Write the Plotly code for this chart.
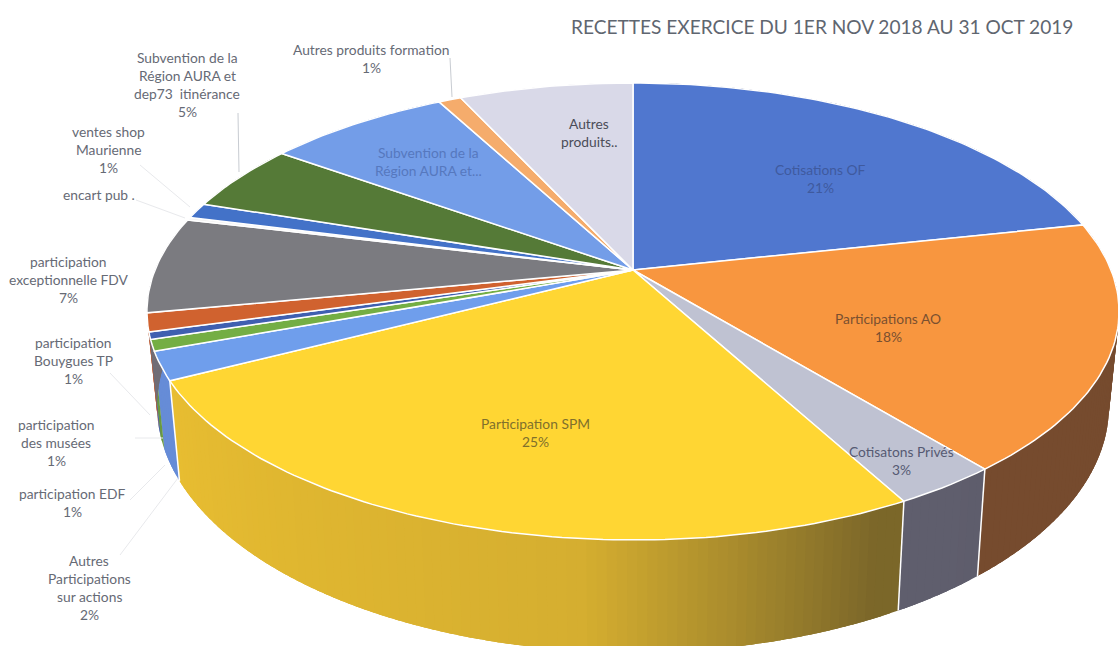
"""Recettes exercice 2018-2019 : camembert 3D en perspective"""
import numpy as np
import plotly.graph_objects as go

TITLE = 'RECETTES EXERCICE DU 1ER NOV 2018 AU 31 OCT 2019'

CATEGORIES = ['Cotisations OF', 'Participations AO', 'Cotisatons Privés', 'Participation SPM',
              'Autres Participations sur actions', 'participation EDF', 'participation des musées',
              'participation Bouygues TP', 'participation exceptionnelle FDV', 'encart pub',
              'ventes shop Maurienne', 'Subvention de la Région AURA et dep73 itinérance',
              'Subvention de la Région AURA et...', 'Autres produits formation', 'Autres produits']
VALUES = [21.6, 17.5, 3.0, 25.3, 2.0, 0.8, 0.5, 1.3, 6.8, 0.2, 1.1, 4.8, 7.3, 0.9, 6.9]
COLORS = ['#5077CF', '#F8963F', '#BFC2D2', '#FFD633', '#6F9EEC', '#74AE44', '#3F5FB0', '#D0622F',
          '#7B7B80', '#F4F4F4', '#4372C8', '#557A37', '#739DE8', '#F5AC6C', '#D9D9E8']

# perspective du disque (pixels de la page)
CX, CY = 633, 270
TOP_A, TOP_B = 478, 221
BOT_A, BOT_B, BOT_CY = 468, 238, 361.5
K = 0.1816

# (centre x, haut y, lignes, couleur)
LABELS = [
    (371, 49, ['Autres produits formation', '1%'], '#666a75'),
    (187, 57, ['Subvention de la', 'Région AURA et', 'dep73  itinérance', '5%'], '#666a75'),
    (108, 131, ['ventes shop', 'Maurienne', '1%'], '#666a75'),
    (99, 194, ['encart pub .'], '#666a75'),
    (68, 261, ['participation', 'exceptionnelle FDV', '7%'], '#666a75'),
    (73, 342, ['participation', 'Bouygues TP', '1%'], '#666a75'),
    (56, 424, ['participation', 'des musées', '1%'], '#666a75'),
    (72, 493, ['participation EDF', '1%'], '#666a75'),
    (89, 560, ['Autres', 'Participations', 'sur actions', '2%'], '#666a75'),
    (428, 152, ['Subvention de la', 'Région AURA et...'], '#5678BE'),
    (589, 123, ['Autres', 'produits..'], '#4b4d58'),
    (820, 169, ['Cotisations OF', '21%'], '#3F5A9E'),
    (888, 318, ['Participations AO', '18%'], '#7A5030'),
    (535, 423, ['Participation SPM', '25%'], '#80702c'),
    (901, 451, ['Cotisatons Privés', '3%'], '#565a72'),
]

LEADERS = [
    [(450, 58), (452, 97), '#c8ccd2'],
    [(238, 113), (239, 172), '#c8ccd2'],
    [(140, 165), (190, 207), '#e8e9ec'],
    [(136, 200), (185, 218), '#e8e9ec'],
    [(110, 373), (150, 415), '#e8e9ec'],
    [(135, 438), (163, 438), '#e8e9ec'],
    [(130, 500), (165, 465), '#e8e9ec'],
    [(120, 555), (178, 478), '#e8e9ec'],
]


def project(theta, a, b, cy):
    # theta en radians, sens horaire depuis le haut
    u, v = np.sin(theta), np.cos(theta)
    w = 1 + K * v
    return CX + a * u / w, cy - b * v / w


def shade(color, theta):
    # eclairage de la tranche : clair a gauche, sombre a droite
    deg = np.degrees(theta)
    f = np.interp(deg, [140, 155, 170, 185, 242, 360], [0.42, 0.43, 0.63, 0.82, 0.9, 0.9])
    r, g, b = [int(color[i:i + 2], 16) for i in (1, 3, 5)]
    return f'rgb({int(r * f + 25 * (1 - f))},{int(g * f * 0.97 + 25 * (1 - f))},{int(b * f + 35 * (1 - f))})'


pct = np.array(VALUES) / sum(VALUES)
edges = np.concatenate([[0], np.cumsum(pct)]) * 2 * np.pi

fig = go.Figure()

# flanc du disque, par bandes qui se recouvrent pour le degrade
for i, color in enumerate(COLORS):
    n = max(2, int(np.degrees(edges[i + 1] - edges[i])))
    steps = np.linspace(edges[i], edges[i + 1], n + 1)
    for t0, t1 in zip(steps[:-1], steps[1:]):
        tt = np.linspace(t0, min(t1 + np.radians(1.5), edges[i + 1]), 4)
        x1, y1 = project(tt, TOP_A, TOP_B, CY)
        x2, y2 = project(tt[::-1], BOT_A, BOT_B, BOT_CY)
        fig.add_trace(go.Scatter(x=np.concatenate([x1, x2]), y=np.concatenate([y1, y2]),
                                 mode='none', fill='toself',
                                 fillcolor=shade(color, (t0 + t1) / 2), hoverinfo='skip'))

# separations blanches du flanc
for t in edges[1:5]:
    x1, y1 = project(t, TOP_A, TOP_B, CY)
    x2, y2 = project(t, BOT_A, BOT_B, BOT_CY)
    fig.add_trace(go.Scatter(x=[x1, x2], y=[y1, y2], mode='lines',
                             line=dict(color='white', width=1.5), hoverinfo='skip'))

# dessus du disque
for i, color in enumerate(COLORS):
    tt = np.linspace(edges[i], edges[i + 1], max(3, int(np.degrees(edges[i + 1] - edges[i]))))
    x, y = project(tt, TOP_A, TOP_B, CY)
    fig.add_trace(go.Scatter(x=np.concatenate([[CX], x, [CX]]), y=np.concatenate([[CY], y, [CY]]),
                             mode='lines', fill='toself', fillcolor=color,
                             line=dict(color='white', width=1.5), name=CATEGORIES[i],
                             hoverinfo='name'))

for (x0, y0), (x1, y1), col in LEADERS:
    fig.add_shape(type='line', x0=x0, y0=y0, x1=x1, y1=y1, line=dict(color=col, width=1))

for cx, top, lines, col in LABELS:
    for j, txt in enumerate(lines):
        fig.add_annotation(x=cx, y=top + 18 * j, text=txt, showarrow=False,
                           xanchor='center', yanchor='middle',
                           font=dict(family='Lato', size=13.8, color=col))

fig.add_annotation(x=822, y=26, text=TITLE, showarrow=False, xanchor='center', yanchor='middle',
                   font=dict(family='Lato', size=19.1, color='#5f6670'))

fig.update_layout(width=1118, height=646, margin=dict(t=0, b=0, l=0, r=0),
                  plot_bgcolor='white', paper_bgcolor='white', showlegend=False,
                  xaxis=dict(range=[0, 1118], visible=False, fixedrange=True),
                  yaxis=dict(range=[646, 0], visible=False, fixedrange=True))

fig.write_html("out.html", config=dict(displayModeBar=False),
               post_script="document.body.style.margin='0';")
